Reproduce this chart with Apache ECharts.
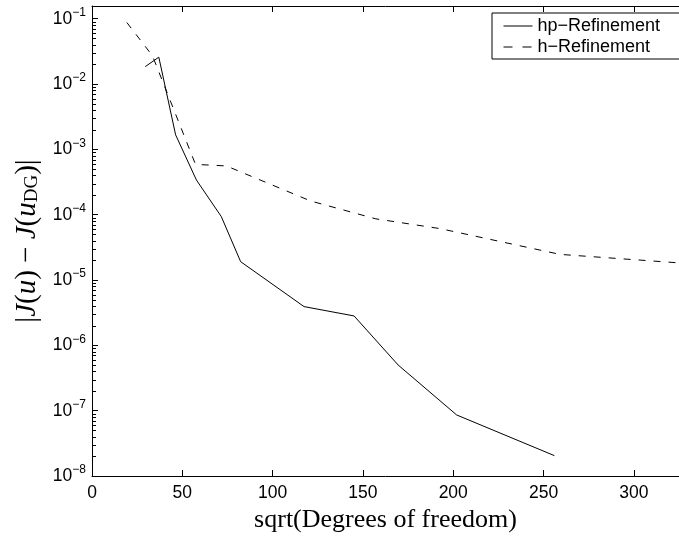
<!DOCTYPE html>
<html>
<head>
<meta charset="utf-8">
<script src="https://cdn.jsdelivr.net/npm/echarts@6/dist/echarts.min.js"></script>
<style>
html,body{margin:0;padding:0;background:#fff;}
#chart{width:679px;height:538px;}
</style>
</head>
<body>
<div id="chart"></div>
<script>
// ---- data ----
const seriesNames = ['hp\u2212Refinement', 'h\u2212Refinement'];
const hpX = [29.5, 37.0, 46.3, 57.8, 71.6, 82.3, 117.4, 145.1, 169.5, 201.9, 256.0];
const hpY = [0.0185, 0.0258, 1.67e-3, 3.4e-4, 9.35e-5, 1.91e-5, 3.92e-6, 2.82e-6, 5.0e-7, 8.6e-8, 2.05e-8];
const hX = [19.3, 33.5, 57.3, 74.4, 121.1, 157.1, 192.8, 259.1, 325];
const hY = [0.0875, 0.027, 5.89e-4, 5.58e-4, 1.62e-4, 8.65e-5, 6.12e-5, 2.47e-5, 1.83e-5];
const xTickValues = [0, 50, 100, 150, 200, 250, 300];
const yDecades = [-8, -7, -6, -5, -4, -3, -2, -1];
const xLabel = 'sqrt(Degrees of freedom)';
const yMax = Math.pow(10, -0.805);

// minor log ticks (2..9 x 10^k)
const minorTickValues = [];
for (let k = -8; k <= -1; k++) {
  for (let m = 2; m <= 9; m++) {
    const v = m * Math.pow(10, k);
    if (v <= yMax) minorTickValues.push(v);
  }
}

const chart = echarts.init(document.getElementById('chart'), null, {renderer: 'canvas'});
const sans = 'Liberation Sans, Arial, Helvetica, sans-serif';
const serif = 'Liberation Serif, Times New Roman, serif';
const supMinus = '\u2212';

const option = {
  animation: false,
  backgroundColor: '#fff',
  grid: {left: 92, top: 6, right: 0, bottom: 62, containLabel: false, outerBoundsMode: 'none'},
  legend: {
    data: [
      {name: seriesNames[0]},
      {name: seriesNames[1], lineStyle: {type: [9, 10]}}
    ],
    orient: 'vertical',
    left: 492, top: 13,
    itemWidth: 29, itemHeight: 14, itemGap: 1,
    padding: [3, 40, 2, 11],
    borderColor: '#000', borderWidth: 1,
    backgroundColor: '#fff',
    itemStyle: {opacity: 0, borderWidth: 0},
    lineStyle: {color: '#000', width: 1, opacity: 1},
    textStyle: {fontFamily: sans, fontSize: 18, color: '#000', lineHeight: 20},
    selectedMode: false
  },
  xAxis: [{
    type: 'value', min: 0, max: 325, interval: 50, position: 'bottom',
    name: xLabel, nameLocation: 'middle', nameGap: 27,
    nameTextStyle: {fontFamily: serif, fontSize: 26, color: '#000'},
    axisLine: {show: true, lineStyle: {color: '#000', width: 1}},
    axisTick: {show: true, inside: true, length: 6, lineStyle: {color: '#000'}},
    axisLabel: {show: true, margin: 8, fontFamily: sans, fontSize: 17.5, color: '#000', showMaxLabel: false,
      formatter: v => xTickValues.indexOf(v) >= 0 ? String(v) : ''},
    splitLine: {show: false}
  }, {
    type: 'value', min: 0, max: 325, interval: 50, position: 'top',
    axisLine: {show: true, lineStyle: {color: '#000', width: 1}},
    axisTick: {show: true, inside: true, length: 6, lineStyle: {color: '#000'}},
    axisLabel: {show: false},
    splitLine: {show: false}
  }],
  yAxis: [{
    type: 'log', logBase: 10, min: 1e-8, max: yMax,
    name: '{t||}{i|J}{t|(}{i|u}{t|) \u2212 }{i|J}{t|(}{i|u}{s|DG}{t|)|}',
    nameLocation: 'middle', nameRotate: 90, nameGap: 46,
    nameTextStyle: {
      color: '#000',
      rich: {
        t: {fontFamily: serif, fontSize: 29, color: '#000', verticalAlign: 'bottom', lineHeight: 32},
        i: {fontFamily: serif, fontStyle: 'italic', fontSize: 29, color: '#000', verticalAlign: 'bottom', lineHeight: 32},
        s: {fontFamily: serif, fontSize: 19, color: '#000', verticalAlign: 'bottom', lineHeight: 26}
      }
    },
    axisLine: {show: true, lineStyle: {color: '#000', width: 1}},
    axisTick: {show: true, inside: true, length: 6, lineStyle: {color: '#000'}},
    axisLabel: {
      show: true, margin: 6, showMaxLabel: false,
      formatter: function (v) {
        const e = Math.log10(v);
        const r = Math.round(e);
        if (Math.abs(e - r) > 1e-6 || yDecades.indexOf(r) < 0) return '';
        return '{b|10}{e|' + (r < 0 ? supMinus + Math.abs(r) : String(r)) + '}';
      },
      rich: {
        b: {fontFamily: sans, fontSize: 17.5, color: '#000', verticalAlign: 'bottom', lineHeight: 18},
        e: {fontFamily: sans, fontSize: 12, color: '#000', verticalAlign: 'bottom', lineHeight: 12, padding: [0, 0, 9, 0]}
      }
    },
    splitLine: {show: false},
    minorTick: {show: false}
  }],
  series: [{
    name: seriesNames[0], type: 'line', symbol: 'none',
    data: hpX.map((x, i) => [x, hpY[i]]),
    lineStyle: {color: '#000', width: 1, type: 'solid'},
    itemStyle: {color: '#000'},
    z: 3
  }, {
    name: seriesNames[1], type: 'line', symbol: 'none',
    data: hX.map((x, i) => [x, hY[i]]),
    lineStyle: {color: '#000', width: 1, type: [7, 8]},
    itemStyle: {color: '#000'},
    z: 3
  }, {
    name: 'minorTicks', type: 'custom', silent: true, clip: false,
    data: minorTickValues.map(v => [0, v]),
    renderItem: function (params, api) {
      const p = api.coord([api.value(0), api.value(1)]);
      const y = Math.round(p[1]) + 0.5;
      return {
        type: 'line',
        shape: {x1: p[0], y1: y, x2: p[0] + 4, y2: y},
        style: {stroke: '#000', lineWidth: 1}
      };
    },
    z: 10
  }]
};
chart.setOption(option);
</script>
</body>
</html>
